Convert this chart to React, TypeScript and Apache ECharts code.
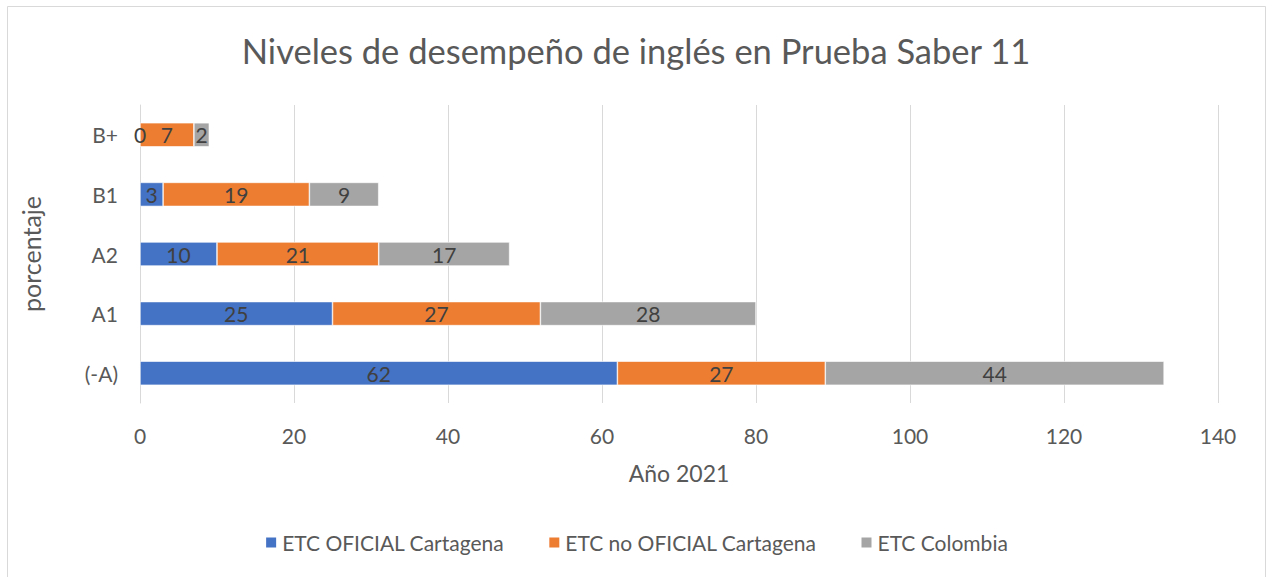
import React, { useEffect, useRef } from "react";
import * as echarts from "echarts";

const categories = ["(-A)", "A1", "A2", "B1", "B+"];
const oficial = [62, 25, 10, 3, 0];
const noOficial = [27, 27, 21, 19, 7];
const colombia = [44, 28, 17, 9, 2];
const seriesNames = ["ETC OFICIAL Cartagena", "ETC no OFICIAL Cartagena", "ETC Colombia"];
const colors = ["#4472C4", "#ED7D31", "#A5A5A5"];

const FONT = "Lato, 'Open Sans', sans-serif";

export default function App() {
  const ref = useRef<HTMLDivElement>(null);
  useEffect(() => {
    if (!ref.current) return;
    const chart = echarts.init(ref.current, undefined, { renderer: "svg" });
    const data = [oficial, noOficial, colombia];
    chart.setOption({
      animation: false,
      backgroundColor: "#ffffff",
      textStyle: { fontFamily: FONT },
      title: {
        text: "Niveles de desempeño de inglés en Prueba Saber 11",
        left: "center",
        top: 28,
        textStyle: { fontFamily: FONT, fontSize: 34.5, fontWeight: "normal", color: "#595959" },
      },
      graphic: [
        {
          type: "rect",
          shape: { x: 7.5, y: 6.5, width: 1258, height: 620 },
          style: { fill: "none", stroke: "#d9d9d9", lineWidth: 1 },
          silent: true,
        },
      ],
      legend: {
        bottom: 19,
        left: "center",
        icon: "rect",
        itemWidth: 12,
        itemHeight: 12,
        itemGap: 43,
        textStyle: { fontFamily: FONT, fontSize: 21, color: "#595959" },
        data: seriesNames,
      },
      grid: { left: 140, right: 54, top: 105, bottom: 174, containLabel: false },
      xAxis: {
        type: "value",
        min: 0,
        max: 140,
        interval: 20,
        name: "Año 2021",
        nameLocation: "middle",
        nameGap: 58,
        nameTextStyle: { fontFamily: FONT, fontSize: 23, color: "#595959" },
        axisLine: { show: false },
        axisTick: { show: false },
        axisLabel: { fontFamily: FONT, fontSize: 21, color: "#595959", margin: 22 },
        splitLine: { lineStyle: { color: "#d9d9d9", width: 1 } },
      },
      yAxis: {
        type: "category",
        data: categories,
        name: "porcentaje",
        nameLocation: "middle",
        nameGap: 97,
        nameTextStyle: { fontFamily: FONT, fontSize: 25, color: "#595959" },
        axisLine: { show: true, lineStyle: { color: "#d9d9d9" } },
        axisTick: { show: false },
        axisLabel: { fontFamily: FONT, fontSize: 21, color: "#595959", margin: 22 },
      },
      series: seriesNames.map((name, i) => ({
        name,
        type: "bar",
        stack: "total",
        barWidth: 24,
        data: data[i],
        itemStyle: { color: colors[i], borderColor: "#ffffff", borderWidth: 0.6 },
        label: {
          show: true,
          position: "inside",
          fontFamily: FONT,
          fontSize: 21,
          color: "#404040",
        },
      })),
    });
    return () => chart.dispose();
  }, []);
  return (
    <div
      ref={ref}
      style={{ position: "fixed", left: 0, top: 0, width: 1272, height: 577 }}
    />
  );
}
